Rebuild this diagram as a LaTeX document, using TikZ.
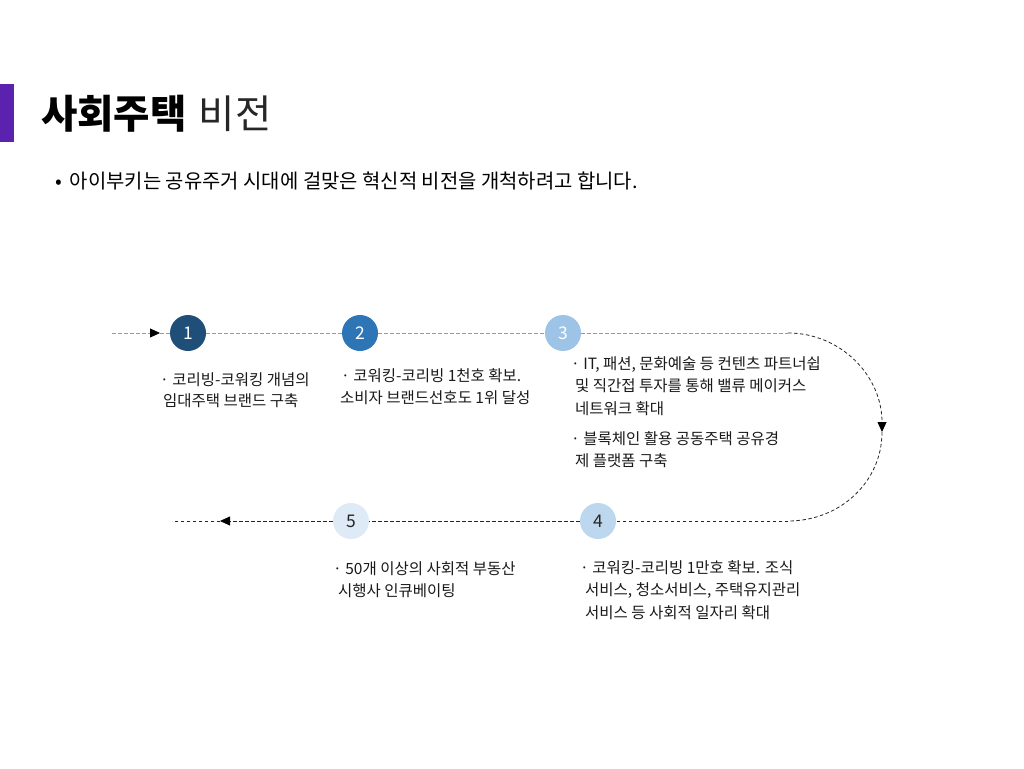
\documentclass[tikz,border=0pt]{standalone}
\usepackage{fontspec}
\setmainfont{Noto Sans CJK KR}
\usetikzlibrary{arrows.meta}
\definecolor{barpurple}{HTML}{5B22B0}
\definecolor{cA}{HTML}{1F4E79}
\definecolor{cB}{HTML}{2E75B6}
\definecolor{cC}{HTML}{9DC3E6}
\definecolor{cD}{HTML}{BDD7EE}
\definecolor{cE}{HTML}{DEEBF7}
\definecolor{linegray}{HTML}{9A9A9A}
\definecolor{txt}{HTML}{1A1A1A}
\tikzset{
  stepcirc/.style={circle, minimum size=36pt, inner sep=0pt, font=\fontsize{17.5}{17.5}\selectfont},
  lbl/.style={anchor=base west, inner sep=0pt, text=txt, font=\fontsize{15.5}{15.5}\selectfont},
  grayline/.style={draw=linegray, dash pattern=on 3.5pt off 2.5pt, line width=0.8pt},
  darkline/.style={draw=black!85, dash pattern=on 3.5pt off 2.5pt, line width=0.8pt},
  tip/.style={-{Triangle[length=10pt,width=9pt,color=black,fill=black]}}
}
\begin{document}
\begin{tikzpicture}[x=1pt,y=-1pt]
\useasboundingbox[fill=white] (0,0) rectangle (1024,768);
% title bar
\fill[barpurple] (0,84) rectangle (14,142);
\node[anchor=base west, inner sep=0pt, font=\fontsize{39.5}{39.5}\selectfont\bfseries] (title) at (41,128) {사회주택};
\node[anchor=base west, inner sep=0pt, font=\fontsize{39.5}{39.5}\selectfont, text=black!85] (title2) at (title.base east) {\hspace{12pt}비전};
% subtitle
\node[anchor=base west, inner sep=0pt, font=\fontsize{19.9}{19.9}\selectfont] (sub) at (55,188) {•\hspace{8pt}아이부키는 공유주거 시대에 걸맞은 혁신적 비전을 개척하려고 합니다.};

% path coordinates
\coordinate (s) at (112,333);
\coordinate (a1) at (160,333);
\coordinate (t1) at (788,333);
\coordinate (mid) at (882,432);
\coordinate (t2) at (788,521);
\coordinate (a2) at (220,521);
\coordinate (e) at (172,521);

% circles
\node[stepcirc, fill=cA, text=white] (c1) at (188,333) {1};
\node[stepcirc, fill=cB, text=white] (c2) at (360,333) {2};
\node[stepcirc, fill=cC, text=white] (c3) at (563,333) {3};
\node[stepcirc, fill=cD, text=black!85] (c4) at (598,521) {4};
\node[stepcirc, fill=cE, text=black!85] (c5) at (351,521) {5};

% connectors
\draw[grayline, tip] (s) -- (a1);
\draw[grayline] (a1) -- (c1);
\draw[grayline] (c1) -- (c2);
\draw[grayline] (c2) -- (c3);
\draw[grayline] (c3) -- (t1);
\draw[darkline, tip] (t1) .. controls (840,333) and (882,375) .. (mid);
\draw[darkline] (mid) .. controls (882,482) and (840,521) .. (t2);
\draw[darkline] (t2) -- (c4);
\draw[darkline] (c4) -- (c5);
\draw[darkline, tip] (c5) -- (a2);
\draw[darkline] (a2) -- (e);

% labels
\node[lbl] (l1a) at (160,385) {· 코리빙-코워킹 개념의};
\node[lbl] (l1b) at (163,406) {임대주택 브랜드 구축};

\node[lbl] (l2a) at (341,381) {· 코워킹-코리빙 1천호 확보.};
\node[lbl] (l2b) at (340,403) {소비자 브랜드선호도 1위 달성};

\node[lbl] (l3a) at (571,369) {· IT, 패션, 문화예술 등 컨텐츠 파트너쉽};
\node[lbl] (l3b) at (575,391) {및 직간접 투자를 통해 밸류 메이커스};
\node[lbl] (l3c) at (575,414) {네트워크 확대};
\node[lbl] (l3d) at (571,444) {· 블록체인 활용 공동주택 공유경};
\node[lbl] (l3e) at (575,466) {제 플랫폼 구축};

\node[lbl] (l5a) at (333,574) {· 50개 이상의 사회적 부동산};
\node[lbl] (l5b) at (338,596) {시행사 인큐베이팅};

\node[lbl] (l4a) at (580,573) {· 코워킹-코리빙 1만호 확보. 조식};
\node[lbl] (l4b) at (585,595) {서비스, 청소서비스, 주택유지관리};
\node[lbl] (l4c) at (585,618) {서비스 등 사회적 일자리 확대};
\end{tikzpicture}
\end{document}
